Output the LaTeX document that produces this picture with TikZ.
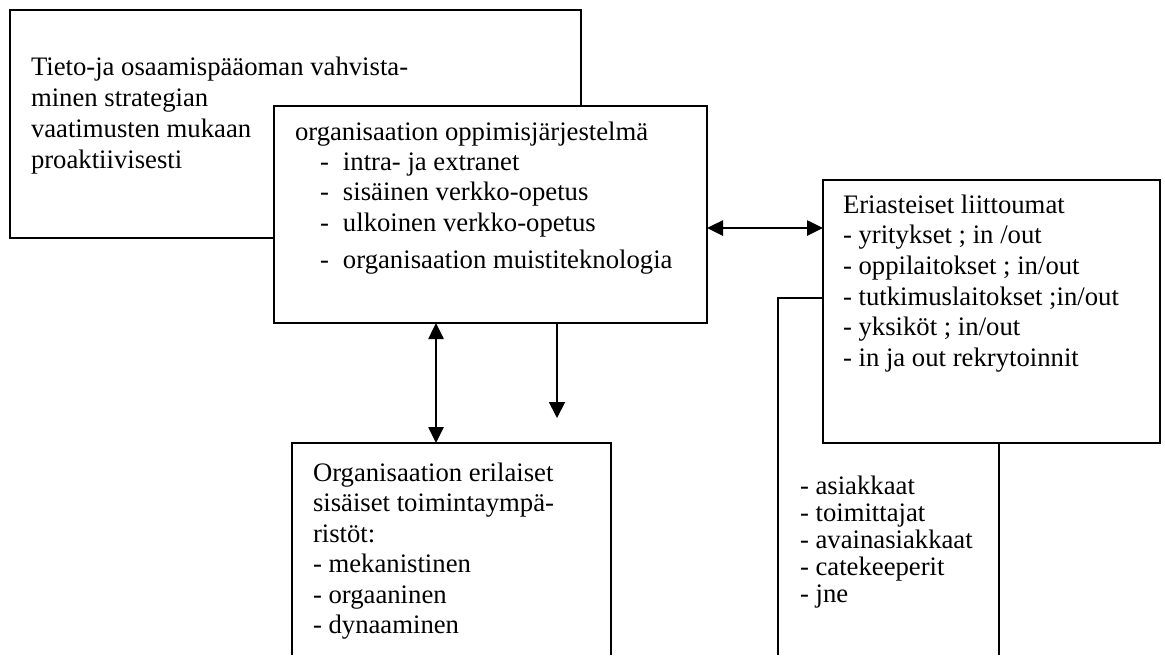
\documentclass[tikz,border=0pt]{standalone}
\usepackage{fontspec}
\setmainfont{Liberation Serif}
\usetikzlibrary{arrows.meta}
% indented list entry: dash, then the entry at a tab stop
\newcommand\listdash{\hspace*{12.5pt}\makebox[11.5pt][l]{-}}
\begin{document}
\begin{tikzpicture}[x=0.5pt,y=-0.5pt,
  frame/.style={draw, fill=white, line width=1pt, rectangle, anchor=north west,
                inner sep=0pt, outer sep=0pt},
  openframe/.style={rectangle, anchor=north west, inner sep=0pt, outer sep=0pt},
  edge/.style={line width=1pt},
  txt/.style={anchor=base west, inner sep=0pt, outer sep=0pt},
  oneway/.style={line width=0.9pt, -{Triangle[length=8pt,width=8pt]}},
  twoway/.style={line width=1.3pt,
                 {Triangle[length=8pt,width=7.5pt]}-{Triangle[length=8pt,width=7.5pt]}},
]
\useasboundingbox (0,0) rectangle (1165,655);

% strategy box (behind the learning-system box)
\node[frame, minimum width=285.5pt, minimum height=114pt] (goal) at (10,10) {};
\node[txt, font=\fontsize{13.35pt}{15.5pt}\selectfont] (goaltext) at (31,75)
  {\begin{tabular}[t]{@{}l@{}}Tieto-ja osaamispääoman vahvista-\\minen strategian\\vaatimusten mukaan\\proaktiivisesti\end{tabular}};

% learning system box
\node[frame, minimum width=216.5pt, minimum height=108.5pt] (learn) at (274,106) {};
\node[txt, font=\fontsize{13.35pt}{15pt}\selectfont] (learntext) at (295,140.7)
  {\begin{tabular}[t]{@{}l@{}}organisaation oppimisjärjestelmä\\
   \listdash intra- ja extranet\\
   \listdash sisäinen verkko-opetus\\[0.5pt]
   \listdash ulkoinen verkko-opetus\\[3.5pt]
   \listdash organisaation muistiteknologia\end{tabular}};

% partner box, open at the bottom, partly behind the alliance box
\node[openframe, fill=white, minimum width=110.5pt, minimum height=178.5pt] (partners) at (778,298) {};
\draw[edge] (partners.south west) -- (partners.north west) -- (partners.north east) -- (partners.south east);
\node[txt, font=\fontsize{13.35pt}{13.6pt}\selectfont] (partnerstext) at (800,494)
  {\begin{tabular}[t]{@{}l@{}}- asiakkaat\\- toimittajat\\- avainasiakkaat\\- catekeeperit\\- jne\end{tabular}};

% alliance box
\node[frame, minimum width=168.5pt, minimum height=131.5pt] (alliance) at (823,180) {};
\node[txt, font=\fontsize{13.35pt}{15.35pt}\selectfont] (alliancetext) at (843,213)
  {\begin{tabular}[t]{@{}l@{}}Eriasteiset liittoumat\\- yritykset ; in /out\\- oppilaitokset ; in/out\\- tutkimuslaitokset ;in/out\\- yksiköt ; in/out\\- in ja out rekrytoinnit\end{tabular}};

% internal environments box, open at the bottom
\node[openframe, minimum width=159.5pt, minimum height=106pt] (envir) at (292,443) {};
\draw[edge] (envir.south west) |- (envir.north east) -- (envir.south east);
\node[txt, font=\fontsize{13.35pt}{15.25pt}\selectfont] (envirtext) at (313,481)
  {\begin{tabular}[t]{@{}l@{}}Organisaation erilaiset\\sisäiset toimintaympä-\\ristöt:\\- mekanistinen\\- orgaaninen\\- dynaaminen\end{tabular}};

% connectors
\draw[twoway] (learn.east |- 0,228) -- (alliance.west |- 0,228);
\draw[twoway] (learn.south -| 436,0) -- (envir.north -| 436,0);
\coordinate (drop) at (557,418);
\draw[oneway] (learn.south -| drop) -- (drop);
\end{tikzpicture}
\end{document}
